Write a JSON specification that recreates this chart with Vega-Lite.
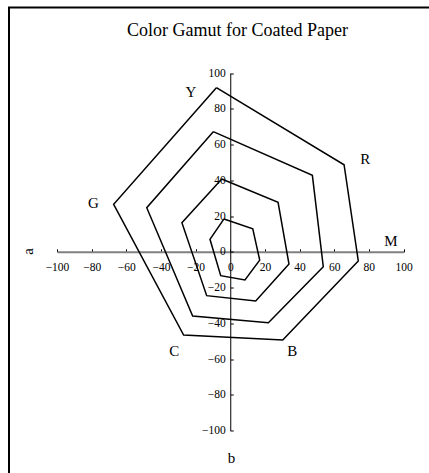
{
  "$schema": "https://vega.github.io/schema/vega-lite/v6.json",
  "width": 422,
  "height": 468,
  "autosize": {"type": "none"},
  "padding": {"left": 9, "top": 7.5, "right": -2, "bottom": -2.5},
  "background": "white",
  "config": {
    "view": {"stroke": "black", "strokeWidth": 2},
    "font": "Liberation Serif"
  },
  "title": {
    "text": "Color Gamut for Coated Paper",
    "font": "Liberation Serif",
    "fontSize": 18,
    "fontWeight": "normal",
    "color": "black",
    "anchor": "middle",
    "frame": "group",
    "baseline": "alphabetic",
    "offset": 0,
    "dx": 17.5,
    "dy": 46
  },
  "datasets": {
    "rings": [
      {"ring": 1, "step": 0, "corner": "Y", "b": -8.0, "a": 91.8},
      {"ring": 1, "step": 1, "corner": "R", "b": 65.7, "a": 48.7},
      {"ring": 1, "step": 2, "corner": "M", "b": 73.9, "a": -5.1},
      {"ring": 1, "step": 3, "corner": "B", "b": 30.3, "a": -49.3},
      {"ring": 1, "step": 4, "corner": "C", "b": -26.9, "a": -46.5},
      {"ring": 1, "step": 5, "corner": "G", "b": -67.3, "a": 26.6},
      {"ring": 1, "step": 6, "corner": "Y", "b": -8.0, "a": 91.8},
      {"ring": 2, "step": 0, "corner": "Y", "b": -9.8, "a": 67.2},
      {"ring": 2, "step": 1, "corner": "R", "b": 47.4, "a": 42.8},
      {"ring": 2, "step": 2, "corner": "M", "b": 53.7, "a": -8.3},
      {"ring": 2, "step": 3, "corner": "B", "b": 22.0, "a": -39.6},
      {"ring": 2, "step": 4, "corner": "C", "b": -21.7, "a": -35.9},
      {"ring": 2, "step": 5, "corner": "G", "b": -48.2, "a": 24.7},
      {"ring": 2, "step": 6, "corner": "Y", "b": -9.8, "a": 67.2},
      {"ring": 3, "step": 0, "corner": "Y", "b": -4.9, "a": 40.7},
      {"ring": 3, "step": 1, "corner": "R", "b": 27.6, "a": 27.7},
      {"ring": 3, "step": 2, "corner": "M", "b": 33.9, "a": -6.8},
      {"ring": 3, "step": 3, "corner": "B", "b": 14.7, "a": -27.5},
      {"ring": 3, "step": 4, "corner": "C", "b": -13.6, "a": -24.5},
      {"ring": 3, "step": 5, "corner": "G", "b": -27.9, "a": 16.3},
      {"ring": 3, "step": 6, "corner": "Y", "b": -4.9, "a": 40.7},
      {"ring": 4, "step": 0, "corner": "Y", "b": -3.6, "a": 18.4},
      {"ring": 4, "step": 1, "corner": "R", "b": 13.0, "a": 12.9},
      {"ring": 4, "step": 2, "corner": "M", "b": 17.0, "a": -4.6},
      {"ring": 4, "step": 3, "corner": "B", "b": 8.5, "a": -15.7},
      {"ring": 4, "step": 4, "corner": "C", "b": -5.5, "a": -13.3},
      {"ring": 4, "step": 5, "corner": "G", "b": -11.7, "a": 7.0},
      {"ring": 4, "step": 6, "corner": "Y", "b": -3.6, "a": 18.4}
    ],
    "corners": [
      {"label": "Y", "b": -22.7, "a": 89.5},
      {"label": "R", "b": 77.9, "a": 51.9},
      {"label": "M", "b": 92.8, "a": 6.2},
      {"label": "B", "b": 35.8, "a": -55.3},
      {"label": "C", "b": -32.3, "a": -55.3},
      {"label": "G", "b": -79.0, "a": 27.1}
    ]
  },
  "encoding": {
    "x": {
      "field": "b",
      "type": "quantitative",
      "scale": {"domain": [-100, 100], "range": [48, 394.5], "nice": false, "zero": false},
      "axis": {
        "title": "b",
        "titleFont": "Liberation Serif",
        "titleFontSize": 15,
        "titleFontWeight": "normal",
        "titleColor": "black",
        "titleX": 222,
        "titleY": 206,
        "titleAlign": "center",
        "titleBaseline": "middle",
        "titleAnchor": null,
        "offset": -223.65,
        "values": [-100, -80, -60, -40, -20, 0, 20, 40, 60, 80, 100],
        "grid": false,
        "domainColor": "#808080",
        "domainWidth": 2,
        "tickColor": "black",
        "tickSize": -3,
        "labelFont": "Liberation Serif",
        "labelFontSize": 11.5,
        "labelColor": "black",
        "labelPadding": 13,
        "labelOverlap": false,
        "labelFlush": false
      }
    },
    "y": {
      "field": "a",
      "type": "quantitative",
      "scale": {"domain": [-100, 100], "range": [423.2, 65.5], "nice": false, "zero": false},
      "axis": {
        "title": "a",
        "titleFont": "Liberation Serif",
        "titleFontSize": 15,
        "titleFontWeight": "normal",
        "titleColor": "black",
        "titleX": -203,
        "titleY": 243.5,
        "titleAngle": -90,
        "titleAlign": "center",
        "titleBaseline": "middle",
        "titleAnchor": null,
        "offset": -221.25,
        "values": [-100, -80, -60, -40, -20, 0, 20, 40, 60, 80, 100],
        "grid": false,
        "domainColor": "black",
        "domainWidth": 1,
        "tickColor": "black",
        "tickSize": -3,
        "labelFont": "Liberation Serif",
        "labelFontSize": 11.5,
        "labelColor": "black",
        "labelPadding": 8,
        "labelOverlap": false,
        "labelFlush": false
      }
    }
  },
  "layer": [
    {
      "data": {"name": "rings"},
      "mark": {"type": "line", "color": "black", "strokeWidth": 1.5, "strokeJoin": "miter"},
      "encoding": {
        "detail": {"field": "ring", "type": "nominal"},
        "order": {"field": "step", "type": "quantitative"}
      }
    },
    {
      "data": {"name": "corners"},
      "mark": {"type": "text", "font": "Liberation Serif", "fontSize": 15, "color": "black", "align": "center", "baseline": "middle"},
      "encoding": {
        "text": {"field": "label", "type": "nominal"}
      }
    }
  ]
}
